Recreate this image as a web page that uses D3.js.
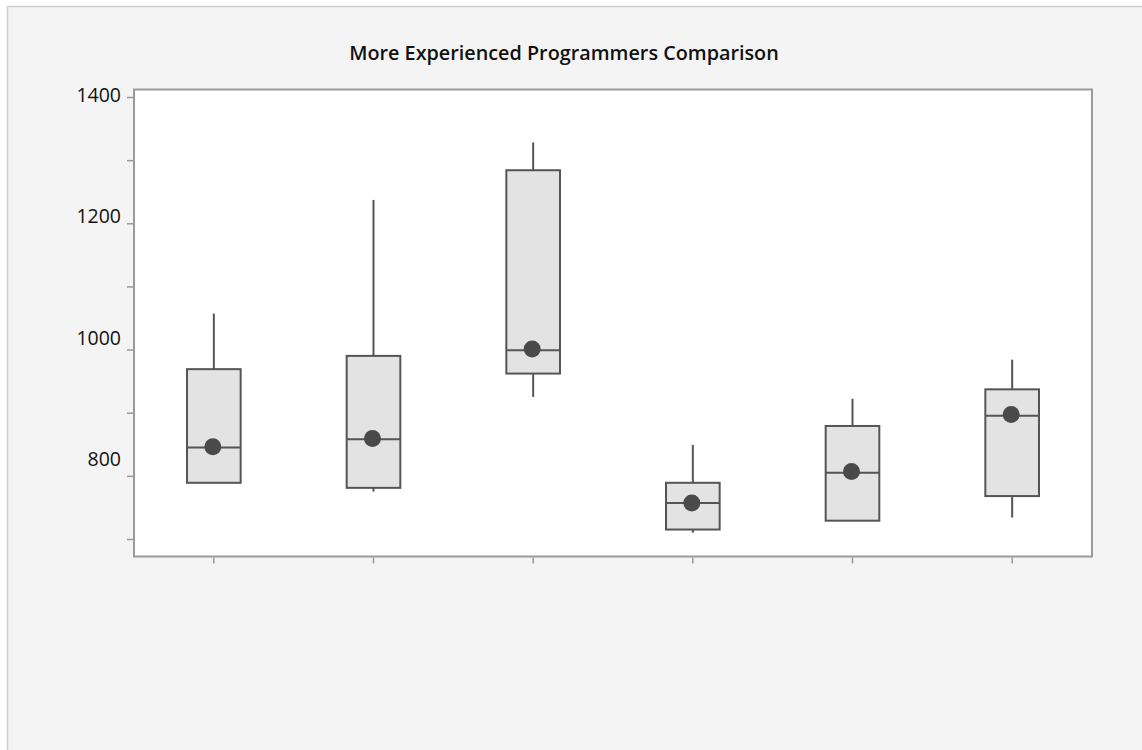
<!DOCTYPE html>
<html>
<head>
<meta charset="utf-8">
<script src="https://cdn.jsdelivr.net/npm/d3@7/dist/d3.min.js"></script>
<style>
  html, body { margin: 0; padding: 0; background: #ffffff; }
  svg { display: block; }
</style>
</head>
<body>
<svg id="chart" width="1142" height="750"></svg>
<script>
// ---- Data ----
const title = "More Experienced Programmers Comparison";
const categories = ["Group 1", "Group 2", "Group 3", "Group 4", "Group 5", "Group 6"];
const whiskerLow  = [789, 775, 925, 710, 729, 734];
const q1Values    = [789, 781, 962, 715, 729, 768];
const medianValues= [845, 858, 999, 757, 805, 895];
const q3Values    = [969, 990, 1284, 789, 879, 937];
const whiskerHigh = [1057, 1237, 1328, 849, 922, 984];
const meanValues  = [846, 859, 1001, 757, 807, 897];
const yTickLabels = [800, 1000, 1200, 1400];
const yMinorTicks = [700, 800, 900, 1000, 1100, 1200, 1300, 1400];

const rows = categories.map((c, i) => ({
  cat: c, lo: whiskerLow[i], q1: q1Values[i], med: medianValues[i],
  q3: q3Values[i], hi: whiskerHigh[i], mean: meanValues[i]
}));

const svg = d3.select("#chart");

// outer panel
svg.append("rect")
  .attr("x", 7.5).attr("y", 6.5).attr("width", 1200).attr("height", 800)
  .attr("fill", "#f4f4f4").attr("stroke", "#cfcfcf").attr("stroke-width", 1.5);

const plot = { left: 134, right: 1092, top: 89.5, bottom: 556.5 };

const x = d3.scaleBand().domain(categories).range([plot.left, plot.right]).padding(0);
const y = d3.scaleLinear().domain([700, 1400]).range([539, 97]);
// tick labels in the reference sit on a slightly different spacing
const yLab = d3.scaleLinear().domain([800, 1400]).range([459, 95]);

// plot area
svg.append("rect")
  .attr("x", plot.left).attr("y", plot.top)
  .attr("width", plot.right - plot.left).attr("height", plot.bottom - plot.top)
  .attr("fill", "#ffffff").attr("stroke", "#9a9a9a").attr("stroke-width", 2);

// title
svg.append("text")
  .attr("x", 564).attr("y", 60)
  .attr("text-anchor", "middle")
  .attr("font-family", "'Open Sans', 'Noto Sans', sans-serif")
  .attr("font-weight", 600).attr("font-size", 19.8)
  .attr("fill", "#111")
  .text(title);

// y axis ticks
const yAxis = d3.axisLeft(y).tickValues(yMinorTicks).tickSize(6).tickFormat("");
const gy = svg.append("g").attr("transform", `translate(${plot.left - 1},0)`).call(yAxis);
gy.select(".domain").remove();
gy.selectAll("line").attr("stroke", "#9a9a9a").attr("stroke-width", 1.5);

// y labels
svg.append("g").selectAll("text").data(yTickLabels).join("text")
  .attr("x", 121).attr("y", d => yLab(d))
  .attr("dy", "0.36em")
  .attr("text-anchor", "end")
  .attr("font-family", "'Open Sans', 'Noto Sans', sans-serif")
  .attr("font-size", 19.5)
  .attr("fill", "#111")
  .text(d => d);

// x axis ticks
const xAxis = d3.axisBottom(x).tickSize(6).tickFormat("");
const gx = svg.append("g").attr("transform", `translate(0,${plot.bottom + 1})`).call(xAxis);
gx.select(".domain").remove();
gx.selectAll("line").attr("stroke", "#9a9a9a").attr("stroke-width", 1.5);

// boxes
const bw = x.bandwidth() * 0.336;
const g = svg.append("g").selectAll("g").data(rows).join("g")
  .attr("transform", d => `translate(${x(d.cat) + x.bandwidth() / 2},0)`);

const stroke = "#555555";
g.append("line").attr("x1", 0).attr("x2", 0)
  .attr("y1", d => y(d.hi)).attr("y2", d => y(d.q3))
  .attr("stroke", stroke).attr("stroke-width", 2);
g.append("line").attr("x1", 0).attr("x2", 0)
  .attr("y1", d => y(d.q1)).attr("y2", d => y(d.lo))
  .attr("stroke", stroke).attr("stroke-width", 2);
g.append("rect")
  .attr("x", -bw / 2).attr("width", bw)
  .attr("y", d => y(d.q3)).attr("height", d => y(d.q1) - y(d.q3))
  .attr("fill", "#e3e3e3").attr("stroke", stroke).attr("stroke-width", 2);
g.append("line")
  .attr("x1", -bw / 2).attr("x2", bw / 2)
  .attr("y1", d => y(d.med)).attr("y2", d => y(d.med))
  .attr("stroke", stroke).attr("stroke-width", 2);
g.append("circle")
  .attr("cx", -1).attr("cy", d => y(d.mean)).attr("r", 8.5)
  .attr("fill", "#4a4a4a");
</script>
</body>
</html>
